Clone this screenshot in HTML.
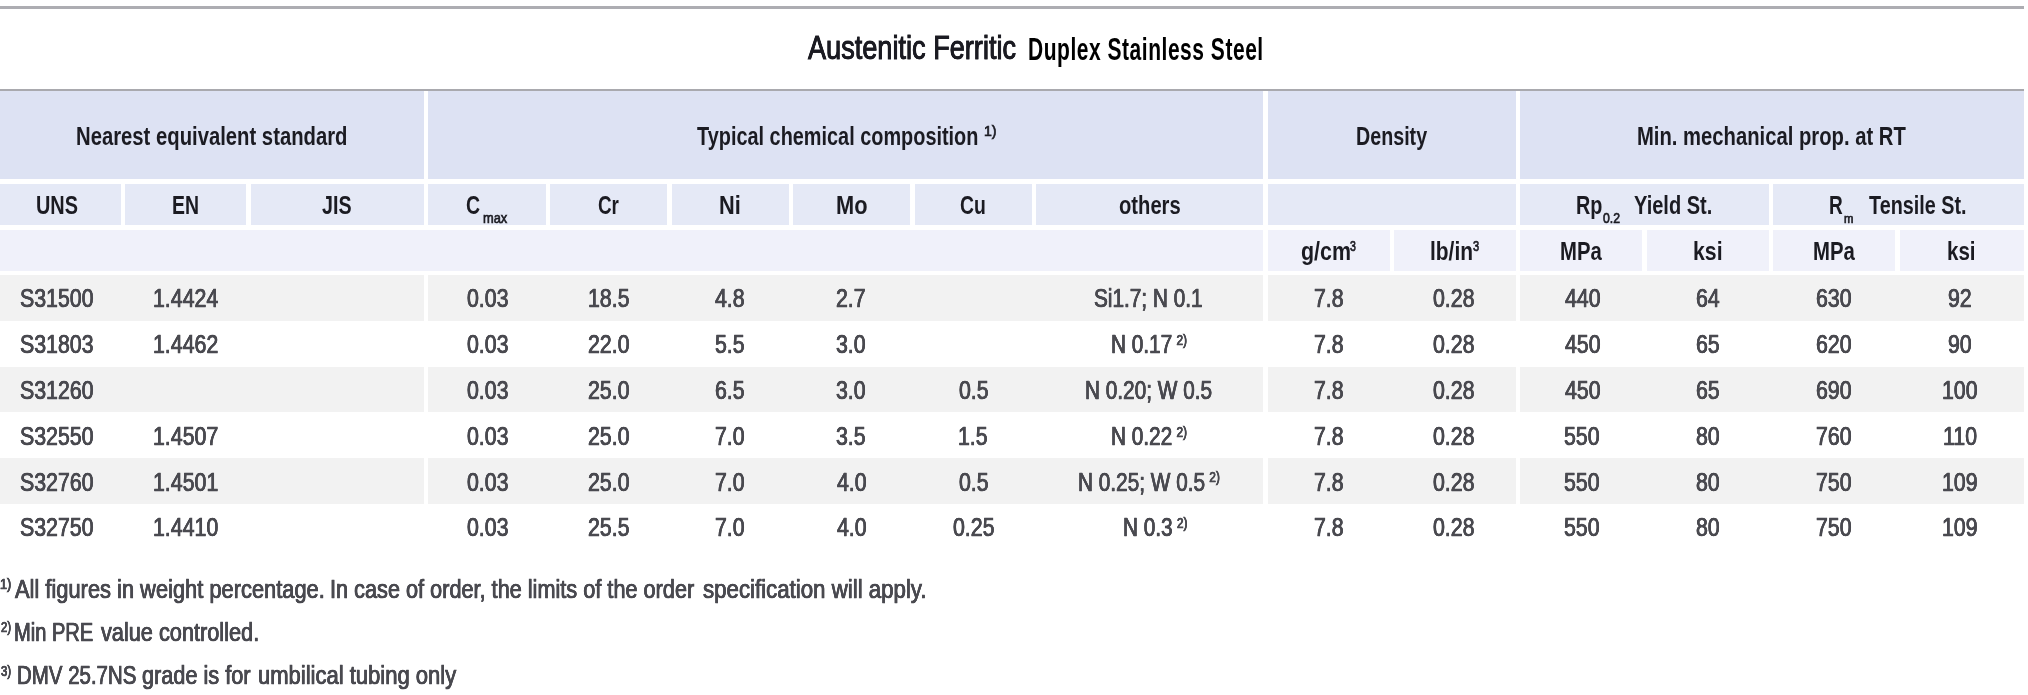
<!DOCTYPE html>
<html lang="en"><head><meta charset="utf-8"><title>Austenitic Ferritic Duplex Stainless Steel</title>
<style>
html,body{margin:0;padding:0;background:#fff}
#pg{position:relative;width:2028px;height:695px;overflow:hidden;font-family:"Liberation Sans", "DejaVu Sans", sans-serif;will-change:transform}
.c{position:absolute}
.ln{position:absolute;left:0;height:2.1px;background:#a9a9ae}
.t{position:absolute;white-space:nowrap;line-height:1;display:inline-block;transform-origin:0 0}
.h{color:#1b1b22;font-weight:bold}
.hs{color:#1b1b22;-webkit-text-stroke:0.7px #1b1b22}
.t1{color:#1b1b22;-webkit-text-stroke:0.9px #1b1b22;text-shadow:0.15px 0 0 #1b1b22,-0.15px 0 0 #1b1b22}
.t2{color:#000;font-weight:bold;letter-spacing:0.025em}
.d{color:#4a4a50;-webkit-text-stroke:0.7px #4a4a50;text-shadow:0.2px 0 0 #4a4a50,-0.2px 0 0 #4a4a50}
sup,sub{line-height:0;font-size:58%}
.s2{vertical-align:0.56em;font-size:57%;margin-left:0.36em}
</style></head>
<body><div id="pg">
<div class="ln" style="top:6.3px;height:2.3px;background:#adadb2;width:2024px"></div>
<div class="ln" style="top:88.9px;width:2024px"></div>
<div id="cells">
<div class="c" style="left:0.0px;top:91.0px;width:423.8px;height:88.4px;background:#dde2f3"></div>
<div class="c" style="left:428.0px;top:91.0px;width:835.3px;height:88.4px;background:#dde2f3"></div>
<div class="c" style="left:1268.0px;top:91.0px;width:247.8px;height:88.4px;background:#dde2f3"></div>
<div class="c" style="left:1520.4px;top:91.0px;width:503.6px;height:88.4px;background:#dde2f3"></div>
<div class="c" style="left:0.0px;top:183.7px;width:121.0px;height:41.3px;background:#e5e9f6"></div>
<div class="c" style="left:125.4px;top:183.7px;width:120.6px;height:41.3px;background:#e5e9f6"></div>
<div class="c" style="left:250.5px;top:183.7px;width:173.3px;height:41.3px;background:#e5e9f6"></div>
<div class="c" style="left:428.0px;top:183.7px;width:117.6px;height:41.3px;background:#e5e9f6"></div>
<div class="c" style="left:550.0px;top:183.7px;width:117.2px;height:41.3px;background:#e5e9f6"></div>
<div class="c" style="left:671.5px;top:183.7px;width:117.2px;height:41.3px;background:#e5e9f6"></div>
<div class="c" style="left:793.0px;top:183.7px;width:117.3px;height:41.3px;background:#e5e9f6"></div>
<div class="c" style="left:914.6px;top:183.7px;width:117.2px;height:41.3px;background:#e5e9f6"></div>
<div class="c" style="left:1036.2px;top:183.7px;width:227.1px;height:41.3px;background:#e5e9f6"></div>
<div class="c" style="left:1268.0px;top:183.7px;width:247.8px;height:41.3px;background:#e5e9f6"></div>
<div class="c" style="left:1520.4px;top:183.7px;width:248.3px;height:41.3px;background:#e5e9f6"></div>
<div class="c" style="left:1773.2px;top:183.7px;width:250.8px;height:41.3px;background:#e5e9f6"></div>
<div class="c" style="left:0.0px;top:229.5px;width:1263.3px;height:41.3px;background:#f0f1fa"></div>
<div class="c" style="left:1268.0px;top:229.5px;width:121.6px;height:41.3px;background:#f0f1fa"></div>
<div class="c" style="left:1394.0px;top:229.5px;width:121.8px;height:41.3px;background:#f0f1fa"></div>
<div class="c" style="left:1520.4px;top:229.5px;width:121.8px;height:41.3px;background:#f0f1fa"></div>
<div class="c" style="left:1646.8px;top:229.5px;width:121.9px;height:41.3px;background:#f0f1fa"></div>
<div class="c" style="left:1773.2px;top:229.5px;width:122.2px;height:41.3px;background:#f0f1fa"></div>
<div class="c" style="left:1899.7px;top:229.5px;width:124.3px;height:41.3px;background:#f0f1fa"></div>
<div class="c" style="left:0.0px;top:275.3px;width:423.8px;height:45.7px;background:#f2f2f2"></div>
<div class="c" style="left:428.0px;top:275.3px;width:835.3px;height:45.7px;background:#f2f2f2"></div>
<div class="c" style="left:1268.0px;top:275.3px;width:247.8px;height:45.7px;background:#f2f2f2"></div>
<div class="c" style="left:1520.4px;top:275.3px;width:503.6px;height:45.7px;background:#f2f2f2"></div>
<div class="c" style="left:0.0px;top:366.8px;width:423.8px;height:45.7px;background:#f2f2f2"></div>
<div class="c" style="left:428.0px;top:366.8px;width:835.3px;height:45.7px;background:#f2f2f2"></div>
<div class="c" style="left:1268.0px;top:366.8px;width:247.8px;height:45.7px;background:#f2f2f2"></div>
<div class="c" style="left:1520.4px;top:366.8px;width:503.6px;height:45.7px;background:#f2f2f2"></div>
<div class="c" style="left:0.0px;top:458.2px;width:423.8px;height:45.7px;background:#f2f2f2"></div>
<div class="c" style="left:428.0px;top:458.2px;width:835.3px;height:45.7px;background:#f2f2f2"></div>
<div class="c" style="left:1268.0px;top:458.2px;width:247.8px;height:45.7px;background:#f2f2f2"></div>
<div class="c" style="left:1520.4px;top:458.2px;width:503.6px;height:45.7px;background:#f2f2f2"></div>
</div>
<div id="title">
<span class="t t1" style="left:808.00px;top:31.00px;font-size:33.4px;transform:scaleX(0.8125)">Austenitic Ferritic</span>
<span class="t h t2" style="left:1027.52px;top:34.35px;font-size:30.5px;transform:scaleX(0.6887)">Duplex Stainless Steel</span>
</div>
<div id="thead">
<span class="t h" style="left:76.22px;top:122.95px;font-size:26.5px;transform:scaleX(0.7648)">Nearest equivalent standard</span>
<span class="t h" style="left:697.10px;top:122.95px;font-size:26.5px;transform:scaleX(0.7504)">Typical chemical composition</span>
<span class="t hs" style="left:983.62px;top:124.40px;font-size:14.4px;transform:scaleX(0.9818)">1)</span>
<span class="t h" style="left:1356.21px;top:122.95px;font-size:26.5px;transform:scaleX(0.7430)">Density</span>
<span class="t h" style="left:1636.97px;top:122.95px;font-size:26.5px;transform:scaleX(0.7637)">Min. mechanical prop. at RT</span>
<span class="t h" style="left:36.10px;top:192.15px;font-size:26.5px;transform:scaleX(0.7509)">UNS</span>
<span class="t h" style="left:172.43px;top:192.15px;font-size:26.5px;transform:scaleX(0.7333)">EN</span>
<span class="t h" style="left:322.26px;top:192.15px;font-size:26.5px;transform:scaleX(0.7421)">JIS</span>
<span class="t h" style="left:466.06px;top:192.15px;font-size:26.5px;transform:scaleX(0.7353)">C</span>
<span class="t hs" style="left:482.76px;top:210.10px;font-size:15.4px;transform:scaleX(0.8357)">max</span>
<span class="t h" style="left:598.09px;top:192.15px;font-size:26.5px;transform:scaleX(0.7107)">Cr</span>
<span class="t h" style="left:719.06px;top:192.15px;font-size:26.5px;transform:scaleX(0.8217)">Ni</span>
<span class="t h" style="left:835.95px;top:192.15px;font-size:26.5px;transform:scaleX(0.8229)">Mo</span>
<span class="t h" style="left:960.37px;top:192.15px;font-size:26.5px;transform:scaleX(0.7303)">Cu</span>
<span class="t h" style="left:1119.04px;top:192.15px;font-size:26.5px;transform:scaleX(0.7620)">others</span>
<span class="t h" style="left:1576.41px;top:192.15px;font-size:26.5px;transform:scaleX(0.7469)">Rp</span>
<span class="t hs" style="left:1602.50px;top:210.90px;font-size:14px;transform:scaleX(0.8737)">0.2</span>
<span class="t h" style="left:1633.84px;top:192.15px;font-size:26.5px;transform:scaleX(0.7564)">Yield St.</span>
<span class="t h" style="left:1829.26px;top:192.15px;font-size:26.5px;transform:scaleX(0.7188)">R</span>
<span class="t hs" style="left:1843.90px;top:212.90px;font-size:12.4px;transform:scaleX(0.9100)">m</span>
<span class="t h" style="left:1868.90px;top:192.15px;font-size:26.5px;transform:scaleX(0.7473)">Tensile St.</span>
<span class="t h" style="left:1300.89px;top:238.05px;font-size:26.5px;transform:scaleX(0.8085)">g/cm</span>
<span class="t hs" style="left:1350.20px;top:239.10px;font-size:14.8px;transform:scaleX(0.7125)">3</span>
<span class="t h" style="left:1430.12px;top:238.05px;font-size:26.5px;transform:scaleX(0.7902)">lb/in</span>
<span class="t hs" style="left:1473.40px;top:239.10px;font-size:14.8px;transform:scaleX(0.7500)">3</span>
<span class="t h" style="left:1559.97px;top:238.05px;font-size:26.5px;transform:scaleX(0.7660)">MPa</span>
<span class="t h" style="left:1693.29px;top:238.05px;font-size:26.5px;transform:scaleX(0.8030)">ksi</span>
<span class="t h" style="left:1812.86px;top:238.05px;font-size:26.5px;transform:scaleX(0.7679)">MPa</span>
<span class="t h" style="left:1947.45px;top:238.05px;font-size:26.5px;transform:scaleX(0.7758)">ksi</span>
</div>
<div id="tbody">
<span class="t d" style="left:20.27px;top:286.30px;font-size:25.6px;transform:scaleX(0.8334)">S31500</span>
<span class="t d" style="left:152.93px;top:286.30px;font-size:25.6px;transform:scaleX(0.8334)">1.4424</span>
<span class="t d" style="left:467.16px;top:286.30px;font-size:25.6px;transform:scaleX(0.8334)">0.03</span>
<span class="t d" style="left:587.65px;top:286.30px;font-size:25.6px;transform:scaleX(0.8334)">18.5</span>
<span class="t d" style="left:715.32px;top:286.30px;font-size:25.6px;transform:scaleX(0.8334)">4.8</span>
<span class="t d" style="left:836.40px;top:286.30px;font-size:25.6px;transform:scaleX(0.8334)">2.7</span>
<span class="t d" style="left:1093.60px;top:286.30px;font-size:25.6px;transform:scaleX(0.8120)">Si1.7; N 0.1</span>
<span class="t d" style="left:1314.00px;top:286.30px;font-size:25.6px;transform:scaleX(0.8334)">7.8</span>
<span class="t d" style="left:1433.16px;top:286.30px;font-size:25.6px;transform:scaleX(0.8334)">0.28</span>
<span class="t d" style="left:1564.50px;top:286.30px;font-size:25.6px;transform:scaleX(0.8334)">440</span>
<span class="t d" style="left:1695.92px;top:286.30px;font-size:25.6px;transform:scaleX(0.8334)">64</span>
<span class="t d" style="left:1816.08px;top:286.30px;font-size:25.6px;transform:scaleX(0.8334)">630</span>
<span class="t d" style="left:1947.92px;top:286.30px;font-size:25.6px;transform:scaleX(0.8334)">92</span>
<span class="t d" style="left:20.27px;top:332.10px;font-size:25.6px;transform:scaleX(0.8334)">S31803</span>
<span class="t d" style="left:152.93px;top:332.10px;font-size:25.6px;transform:scaleX(0.8334)">1.4462</span>
<span class="t d" style="left:467.16px;top:332.10px;font-size:25.6px;transform:scaleX(0.8334)">0.03</span>
<span class="t d" style="left:588.06px;top:332.10px;font-size:25.6px;transform:scaleX(0.8334)">22.0</span>
<span class="t d" style="left:714.90px;top:332.10px;font-size:25.6px;transform:scaleX(0.8334)">5.5</span>
<span class="t d" style="left:836.40px;top:332.10px;font-size:25.6px;transform:scaleX(0.8334)">3.0</span>
<span class="t d" style="left:1111.03px;top:332.10px;font-size:25.6px;transform:scaleX(0.8120)">N 0.17<sup class="s2">2)</sup></span>
<span class="t d" style="left:1314.00px;top:332.10px;font-size:25.6px;transform:scaleX(0.8334)">7.8</span>
<span class="t d" style="left:1433.16px;top:332.10px;font-size:25.6px;transform:scaleX(0.8334)">0.28</span>
<span class="t d" style="left:1564.50px;top:332.10px;font-size:25.6px;transform:scaleX(0.8334)">450</span>
<span class="t d" style="left:1695.92px;top:332.10px;font-size:25.6px;transform:scaleX(0.8334)">65</span>
<span class="t d" style="left:1816.08px;top:332.10px;font-size:25.6px;transform:scaleX(0.8334)">620</span>
<span class="t d" style="left:1947.92px;top:332.10px;font-size:25.6px;transform:scaleX(0.8334)">90</span>
<span class="t d" style="left:20.27px;top:377.90px;font-size:25.6px;transform:scaleX(0.8334)">S31260</span>
<span class="t d" style="left:467.16px;top:377.90px;font-size:25.6px;transform:scaleX(0.8334)">0.03</span>
<span class="t d" style="left:588.06px;top:377.90px;font-size:25.6px;transform:scaleX(0.8334)">25.0</span>
<span class="t d" style="left:714.90px;top:377.90px;font-size:25.6px;transform:scaleX(0.8334)">6.5</span>
<span class="t d" style="left:836.40px;top:377.90px;font-size:25.6px;transform:scaleX(0.8334)">3.0</span>
<span class="t d" style="left:958.50px;top:377.90px;font-size:25.6px;transform:scaleX(0.8334)">0.5</span>
<span class="t d" style="left:1084.65px;top:377.90px;font-size:25.6px;transform:scaleX(0.8120)">N 0.20; W 0.5</span>
<span class="t d" style="left:1314.00px;top:377.90px;font-size:25.6px;transform:scaleX(0.8334)">7.8</span>
<span class="t d" style="left:1433.16px;top:377.90px;font-size:25.6px;transform:scaleX(0.8334)">0.28</span>
<span class="t d" style="left:1564.50px;top:377.90px;font-size:25.6px;transform:scaleX(0.8334)">450</span>
<span class="t d" style="left:1695.92px;top:377.90px;font-size:25.6px;transform:scaleX(0.8334)">65</span>
<span class="t d" style="left:1816.08px;top:377.90px;font-size:25.6px;transform:scaleX(0.8334)">690</span>
<span class="t d" style="left:1941.66px;top:377.90px;font-size:25.6px;transform:scaleX(0.8334)">100</span>
<span class="t d" style="left:20.27px;top:423.70px;font-size:25.6px;transform:scaleX(0.8334)">S32550</span>
<span class="t d" style="left:152.93px;top:423.70px;font-size:25.6px;transform:scaleX(0.8334)">1.4507</span>
<span class="t d" style="left:467.16px;top:423.70px;font-size:25.6px;transform:scaleX(0.8334)">0.03</span>
<span class="t d" style="left:588.06px;top:423.70px;font-size:25.6px;transform:scaleX(0.8334)">25.0</span>
<span class="t d" style="left:714.90px;top:423.70px;font-size:25.6px;transform:scaleX(0.8334)">7.0</span>
<span class="t d" style="left:836.40px;top:423.70px;font-size:25.6px;transform:scaleX(0.8334)">3.5</span>
<span class="t d" style="left:958.08px;top:423.70px;font-size:25.6px;transform:scaleX(0.8334)">1.5</span>
<span class="t d" style="left:1111.03px;top:423.70px;font-size:25.6px;transform:scaleX(0.8120)">N 0.22<sup class="s2">2)</sup></span>
<span class="t d" style="left:1314.00px;top:423.70px;font-size:25.6px;transform:scaleX(0.8334)">7.8</span>
<span class="t d" style="left:1433.16px;top:423.70px;font-size:25.6px;transform:scaleX(0.8334)">0.28</span>
<span class="t d" style="left:1564.08px;top:423.70px;font-size:25.6px;transform:scaleX(0.8334)">550</span>
<span class="t d" style="left:1695.92px;top:423.70px;font-size:25.6px;transform:scaleX(0.8334)">80</span>
<span class="t d" style="left:1816.08px;top:423.70px;font-size:25.6px;transform:scaleX(0.8334)">760</span>
<span class="t d" style="left:1942.50px;top:423.70px;font-size:25.6px;transform:scaleX(0.8334)">110</span>
<span class="t d" style="left:20.27px;top:469.50px;font-size:25.6px;transform:scaleX(0.8334)">S32760</span>
<span class="t d" style="left:152.93px;top:469.50px;font-size:25.6px;transform:scaleX(0.8334)">1.4501</span>
<span class="t d" style="left:467.16px;top:469.50px;font-size:25.6px;transform:scaleX(0.8334)">0.03</span>
<span class="t d" style="left:588.06px;top:469.50px;font-size:25.6px;transform:scaleX(0.8334)">25.0</span>
<span class="t d" style="left:714.90px;top:469.50px;font-size:25.6px;transform:scaleX(0.8334)">7.0</span>
<span class="t d" style="left:836.82px;top:469.50px;font-size:25.6px;transform:scaleX(0.8334)">4.0</span>
<span class="t d" style="left:958.50px;top:469.50px;font-size:25.6px;transform:scaleX(0.8334)">0.5</span>
<span class="t d" style="left:1077.94px;top:469.50px;font-size:25.6px;transform:scaleX(0.8120)">N 0.25; W 0.5<sup class="s2">2)</sup></span>
<span class="t d" style="left:1314.00px;top:469.50px;font-size:25.6px;transform:scaleX(0.8334)">7.8</span>
<span class="t d" style="left:1433.16px;top:469.50px;font-size:25.6px;transform:scaleX(0.8334)">0.28</span>
<span class="t d" style="left:1564.08px;top:469.50px;font-size:25.6px;transform:scaleX(0.8334)">550</span>
<span class="t d" style="left:1695.92px;top:469.50px;font-size:25.6px;transform:scaleX(0.8334)">80</span>
<span class="t d" style="left:1816.08px;top:469.50px;font-size:25.6px;transform:scaleX(0.8334)">750</span>
<span class="t d" style="left:1941.66px;top:469.50px;font-size:25.6px;transform:scaleX(0.8334)">109</span>
<span class="t d" style="left:20.27px;top:515.30px;font-size:25.6px;transform:scaleX(0.8334)">S32750</span>
<span class="t d" style="left:152.93px;top:515.30px;font-size:25.6px;transform:scaleX(0.8334)">1.4410</span>
<span class="t d" style="left:467.16px;top:515.30px;font-size:25.6px;transform:scaleX(0.8334)">0.03</span>
<span class="t d" style="left:588.06px;top:515.30px;font-size:25.6px;transform:scaleX(0.8334)">25.5</span>
<span class="t d" style="left:714.90px;top:515.30px;font-size:25.6px;transform:scaleX(0.8334)">7.0</span>
<span class="t d" style="left:836.82px;top:515.30px;font-size:25.6px;transform:scaleX(0.8334)">4.0</span>
<span class="t d" style="left:952.66px;top:515.30px;font-size:25.6px;transform:scaleX(0.8334)">0.25</span>
<span class="t d" style="left:1122.61px;top:515.30px;font-size:25.6px;transform:scaleX(0.8120)">N 0.3<sup class="s2">2)</sup></span>
<span class="t d" style="left:1314.00px;top:515.30px;font-size:25.6px;transform:scaleX(0.8334)">7.8</span>
<span class="t d" style="left:1433.16px;top:515.30px;font-size:25.6px;transform:scaleX(0.8334)">0.28</span>
<span class="t d" style="left:1564.08px;top:515.30px;font-size:25.6px;transform:scaleX(0.8334)">550</span>
<span class="t d" style="left:1695.92px;top:515.30px;font-size:25.6px;transform:scaleX(0.8334)">80</span>
<span class="t d" style="left:1816.08px;top:515.30px;font-size:25.6px;transform:scaleX(0.8334)">750</span>
<span class="t d" style="left:1941.66px;top:515.30px;font-size:25.6px;transform:scaleX(0.8334)">109</span>
</div>
<div id="notes">
<span class="t d" style="left:-0.09px;top:577.30px;font-size:14.2px;transform:scaleX(0.8909)">1)</span>
<span class="t d" style="left:14.70px;top:576.50px;font-size:25.6px;transform:scaleX(0.8540)">All figures in weight percentage.</span>
<span class="t d" style="left:329.70px;top:576.50px;font-size:25.6px;transform:scaleX(0.8477)">In case of order, the limits of the order</span>
<span class="t d" style="left:702.90px;top:576.50px;font-size:25.6px;transform:scaleX(0.8698)">specification will apply.</span>
<span class="t d" style="left:1.20px;top:620.40px;font-size:14.2px;transform:scaleX(0.8000)">2)</span>
<span class="t d" style="left:14.33px;top:619.90px;font-size:25.6px;transform:scaleX(0.7847)">Min PRE</span>
<span class="t d" style="left:101.30px;top:619.90px;font-size:25.6px;transform:scaleX(0.8489)">value controlled.</span>
<span class="t d" style="left:1.20px;top:663.50px;font-size:14.2px;transform:scaleX(0.8000)">3)</span>
<span class="t d" style="left:17.00px;top:662.90px;font-size:25.6px;transform:scaleX(0.7993)">DMV 25.7NS</span>
<span class="t d" style="left:141.85px;top:662.90px;font-size:25.6px;transform:scaleX(0.8480)">grade is for</span>
<span class="t d" style="left:257.64px;top:662.90px;font-size:25.6px;transform:scaleX(0.8600)">umbilical tubing only</span>
</div>
</div></body></html>
